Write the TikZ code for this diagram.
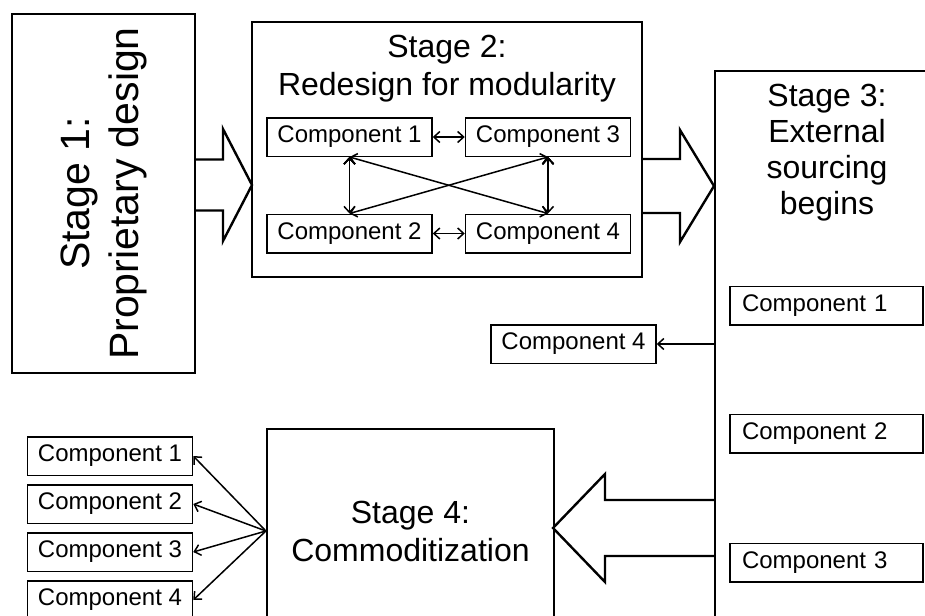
\documentclass[tikz,border=0pt]{standalone}
\usepackage{fontspec}
\setmainfont{Liberation Sans}
\usetikzlibrary{positioning,arrows.meta}

\begin{document}
\begin{tikzpicture}[x=1pt,y=-1pt]
		\tikzset{stagebox/.style = {shape=rectangle,draw,line width=2.2pt,align=center,inner sep=0pt}}
		\tikzset{comp/.style = {shape=rectangle,draw,line width=1.5pt,minimum width=165pt,minimum height=38.5pt,inner sep=0pt,font=\fontsize{24}{28}\selectfont}}
		\tikzset{link/.style = {->,> = {Straight Barb[length=6pt,width=11pt]},line width=1.5pt}}
		\tikzset{bigarrow/.style = {draw,line width=2.4pt,line join=miter}}
		\useasboundingbox (0,0) rectangle (925,615);
		\clip (0,0) rectangle (925,615);
		% stages
		\node[stagebox,rotate=90,minimum width=359pt,minimum height=183pt,font=\fontsize{41}{49}\selectfont] (stage1) at (103.5,193.5) {Stage 1:\\Proprietary design};
		\node[stagebox,minimum width=390pt,minimum height=255pt] (stage2) at (447,149.5) {};
		\node[align=center,font=\fontsize{32}{38}\selectfont,below=11pt of stage2.north] (title2) {Stage 2:\\Redesign for modularity};
		\node[stagebox,anchor=north west,minimum width=226pt,minimum height=580pt] (stage3) at (714,70) {};
		\node[align=center,font=\fontsize{32}{36}\selectfont,anchor=north] (title3) at (827,81) {Stage 3:\\External\\sourcing\\begins};
		\node[stagebox,minimum width=287pt,minimum height=204pt,font=\fontsize{32}{38}\selectfont] (stage4) at (410.5,531) {Stage 4:\\Commoditization};
		% components of stage 2
		\node[comp] (s2c1) at (349.5,137) {Component 1};
		\node[comp] (s2c3) at (548,137) {Component 3};
		\node[comp] (s2c2) at (349.5,233.5) {Component 2};
		\node[comp] (s2c4) at (548,233.5) {Component 4};
		\path[link,<->,draw] (s2c1) edge (s2c3);
		\path[link,<->,draw] (s2c2) edge (s2c4);
		\path[link,<->,draw] (s2c1.south) edge (s2c2.north);
		\path[link,<->,draw] (s2c3.south) edge (s2c4.north);
		\path[link,<->,draw] (s2c1.south) edge (s2c4.north);
		\path[link,<->,draw] (s2c3.south) edge (s2c2.north);
		% components of stage 3
		\node[comp,inner xsep=12pt,text width=169pt,align=left] (s3c1) at (826.5,305.5) {Component 1};
		\node[comp,inner xsep=12pt,text width=169pt,align=left] (s3c2) at (826.5,433.5) {Component 2};
		\node[comp,inner xsep=12pt,text width=169pt,align=left] (s3c3) at (826.5,562.5) {Component 3};
		\node[comp] (s3c4) at (573.5,344) {Component 4};
		\draw[link] (stage3.west |- s3c4) -- (s3c4.east);
		% components of stage 4
		\foreach \i/\y in {1/456,2/504,3/552,4/600} {
			\node[comp] (s4c\i) at (110,\y) {Component \i};
			\draw[link] (stage4.west) -- (s4c\i.east);
		}
		% big arrows
		\draw[bigarrow] (195,159.5) -- (223,159.5) -- (223,129) -- (252,185) -- (223,241) -- (223,210.5) -- (195,210.5);
		\draw[bigarrow] (642,159) -- (680,159) -- (680,130) -- (714,186) -- (680,242) -- (680,213) -- (642,213);
		\draw[bigarrow] (714,500) -- (605,500) -- (605,474) -- (553,528) -- (605,582) -- (605,556) -- (714,556);
	\end{tikzpicture}
\end{document}
